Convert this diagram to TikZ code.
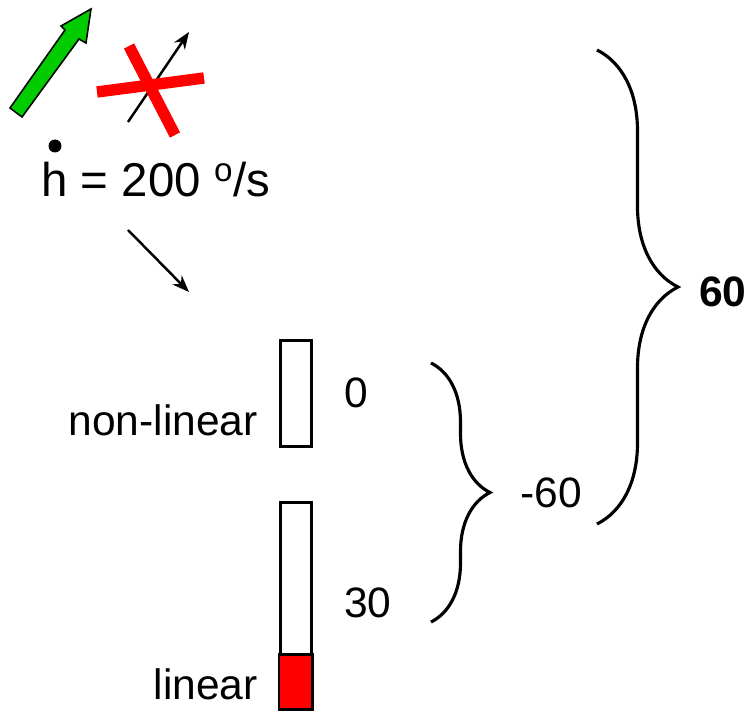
\documentclass[tikz,border=0pt]{standalone}
\usepackage{fontspec}
\setmainfont{Liberation Sans}
\usetikzlibrary{arrows.meta,positioning,calc,decorations.pathreplacing}
\definecolor{ratered}  {RGB}{255,0,0}
\definecolor{rategreen}{RGB}{0,204,0}

\begin{document}
\begin{tikzpicture}[x=0.02cm,y=0.02cm,
  every node/.style={font=\fontsize{24.2}{29}\selectfont,inner sep=0pt},
  bar/.style={draw,line width=1.7pt,fill=white,minimum width=0.62cm,
              anchor=north west,inner sep=0pt},
  arr/.style={-{Stealth[length=3.4mm,width=2.6mm]},line width=1.4pt},
  brc/.style={decorate,decoration={brace,amplitude=#1},line width=1.8pt},
  cross/.style={ratered,line width=6.5pt},
]
\useasboundingbox (0,0) rectangle (755,-713);

%% ── Climb arrows ─────────────────────────────────────────────────────────
\draw[fill=rategreen,line width=0.9pt,line join=miter]
  (10,-108) -- (65,-30) -- (61,-26) -- (91,-9) -- (86,-43) -- (79,-39) -- (22,-117) -- cycle;

\coordinate (thin0) at (128,-122);
\coordinate (thin1) at (189,-32);
\draw[arr] (thin0) -- (thin1);
\draw[cross] (97,-92) -- (204,-78);
\draw[cross] (129,-46) -- (175,-135);

%% ── Rate text ────────────────────────────────────────────────────────────
\node[anchor=base west,font=\fontsize{27}{32}\selectfont] (rate) at (41,-197)
  {h = 200 \textsuperscript{o}/s};
\fill (55,-146) circle (0.13cm);

\coordinate (down0) at (128,-230);
\coordinate (down1) at (189,-292);
\draw[arr] (down0) -- (down1);

%% ── Bars ─────────────────────────────────────────────────────────────────
\node[bar,minimum height=2.12cm] (nlbar) at (279,-339) {};
\node[bar,minimum height=4.12cm] (linbar) at (279,-501) {};
\draw[line width=1.7pt,fill=ratered]
  (linbar.south west) rectangle ($(linbar.south east)+(0,55)$);

\node[anchor=base east] (nonlin) at (258,-436) {non-linear};
\node[anchor=base east] (lin) at (258,-699) {linear};
\node[anchor=base west] (zero) at (344,-407) {0};
\node[anchor=base west] (thirty) at (344,-617) {30};

%% ── Braces ───────────────────────────────────────────────────────────────
\coordinate (sb0) at (431,-363);
\coordinate (sb1) at (431,-622);
\draw[brc=1.18cm] (sb0) -- (sb1);
\node[anchor=base west] (mtotal) at (520,-507) {-60};

\coordinate (bb0) at (597,-50);
\coordinate (bb1) at (597,-524);
\draw[brc=1.62cm] (bb0) -- (bb1);
\node[anchor=base west,font=\fontsize{24.2}{29}\selectfont\bfseries] (total) at (699,-307) {60};

\end{tikzpicture}
\end{document}
